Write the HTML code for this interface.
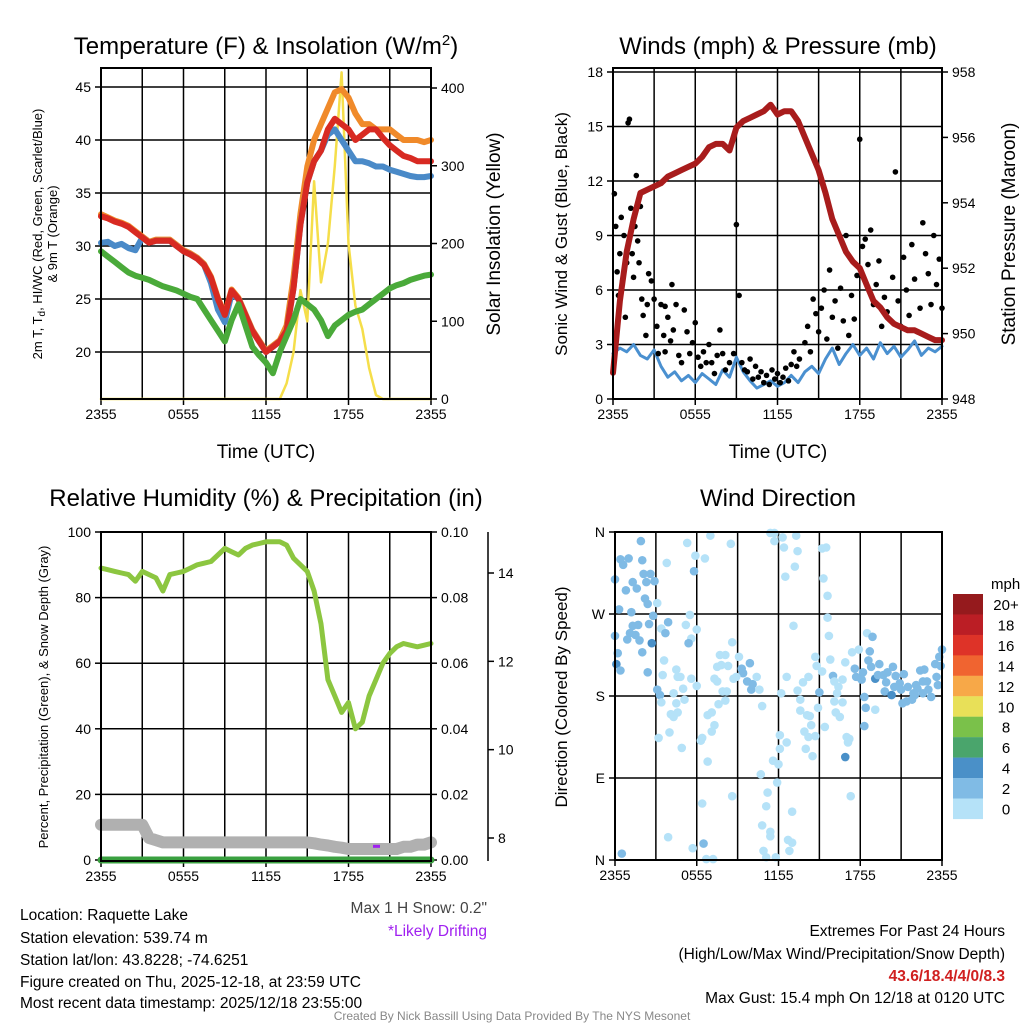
<!DOCTYPE html>
<html><head><meta charset="utf-8"><style>
body{margin:0;background:#fff}
svg text{font-family:"Liberation Sans",sans-serif}
</style></head><body>
<svg id="s" width="1024" height="1024" viewBox="0 0 1024 1024" xmlns="http://www.w3.org/2000/svg">
<g id="g"></g>
<g font-size="24" text-anchor="middle" fill="#000">
<text x="266" y="54">Temperature (F) &amp; Insolation (W/m<tspan dy="-9" font-size="15">2</tspan><tspan dy="9">)</tspan></text>
<text x="778" y="54">Winds (mph) &amp; Pressure (mb)</text>
<text x="266" y="506">Relative Humidity (%) &amp; Precipitation (in)</text>
<text x="778" y="506">Wind Direction</text>
</g>
<g font-size="19" text-anchor="middle">
<text x="266" y="458">Time (UTC)</text>
<text x="778" y="458">Time (UTC)</text>
<text transform="translate(500,234) rotate(-90)">Solar Insolation (Yellow)</text>
<text transform="translate(1015,234) rotate(-90)">Station Pressure (Maroon)</text>
</g>
<g font-size="17" text-anchor="middle">
<text transform="translate(567,234) rotate(-90)">Sonic Wind &amp; Gust (Blue, Black)</text>
<text transform="translate(567,697) rotate(-90)">Direction (Colored By Speed)</text>
</g>
<g font-size="13" text-anchor="middle">
<text transform="translate(42,234) rotate(-90)">2m T, T<tspan dy="3" font-size="10">d</tspan><tspan dy="-3">, HI/WC (Red, Green, Scarlet/Blue)</tspan></text>
<text transform="translate(57,234) rotate(-90)">&amp; 9m T (Orange)</text>
<text transform="translate(48,697) rotate(-90)">Percent, Precipitation (Green), &amp; Snow Depth (Gray)</text>
</g>
<g font-size="15.5">
<text x="20" y="920">Location: Raquette Lake</text>
<text x="20" y="943">Station elevation: 539.74 m</text>
<text x="20" y="965">Station lat/lon: 43.8228; -74.6251</text>
<text x="20" y="987">Figure created on Thu, 2025-12-18, at 23:59 UTC</text>
<text x="20" y="1008">Most recent data timestamp: 2025/12/18 23:55:00</text>
<text x="487" y="913" text-anchor="end" fill="#444">Max 1 H Snow: 0.2"</text>
<text x="487" y="936" text-anchor="end" fill="#a020f0">*Likely Drifting</text>
<text x="1005" y="936" text-anchor="end">Extremes For Past 24 Hours</text>
<text x="1005" y="959" text-anchor="end">(High/Low/Max Wind/Precipitation/Snow Depth)</text>
<text x="1005" y="981" text-anchor="end" fill="#d02020" font-weight="bold">43.6/18.4/4/0/8.3</text>
<text x="1005" y="1003" text-anchor="end">Max Gust: 15.4 mph On 12/18 at 0120 UTC</text>
</g>
<text x="512" y="1020" font-size="12" fill="#888" text-anchor="middle">Created By Nick Bassill Using Data Provided By The NYS Mesonet</text>
</svg>
<script>
// ---------- data ----------
const hours = [];for(let i=0;i<=48;i++)hours.push(i/2);
const timeTicks=["2355","0555","1155","1755","2355"];
const tempRed=[32.8,32.6,32.3,32.1,31.8,31.3,30.8,30.3,30.5,30.5,30.5,30.0,29.5,29.2,28.8,28.2,27.0,25.0,23.5,25.8,25.0,23.5,22.0,21.0,20.0,20.5,21.0,22.0,26.0,32.0,36.0,38.0,39.0,41.0,42.0,41.5,41.0,40.0,40.5,41.0,41.0,40.2,39.5,39.0,38.5,38.3,38.0,38.0,38.0];
const tempOrange=[33.0,32.7,32.4,32.2,31.9,31.4,30.9,30.4,30.6,30.6,30.6,30.1,29.6,29.3,28.9,28.3,27.1,25.1,23.6,25.9,25.1,23.6,22.1,21.1,20.1,20.6,21.1,22.5,27.0,33.0,37.5,40.0,41.5,43.0,44.5,44.8,44.0,42.5,41.5,41.5,41.0,41.0,41.0,40.5,40.0,40.0,40.0,39.8,40.0];
const tempBlue=[30.3,30.4,30.0,30.2,29.8,29.6,30.8,30.3,30.5,30.5,30.5,30.0,29.5,29.2,28.8,28.2,26.5,24.0,22.8,25.5,25.0,23.5,22.0,21.0,20.0,20.5,21.0,22.0,26.0,32.0,36.0,38.0,39.0,40.5,41.0,40.0,39.0,38.0,38.0,37.8,37.5,37.5,37.2,37.0,36.8,36.6,36.5,36.5,36.6];
const tempGreen=[29.5,29.0,28.5,28.0,27.5,27.2,27.0,26.8,26.5,26.2,26.0,25.8,25.5,25.2,25.0,24.0,23.0,22.0,21.0,23.0,24.5,22.5,20.5,19.7,19.0,18.0,20.0,21.5,23.0,25.0,24.5,24.0,23.0,21.5,22.5,23.0,23.5,23.8,24.0,24.5,25.0,25.5,26.0,26.3,26.5,26.8,27.0,27.2,27.3];
const insolation=[0,0,0,0,0,0,0,0,0,0,0,0,0,0,0,0,0,0,0,0,0,0,0,0,0,0,0,20,60,140,100,280,150,200,300,420,200,120,90,40,5,0,0,0,0,0,0,0,0];
const pressure=[948.8,951.0,952.5,953.5,954.3,954.4,954.5,954.6,954.8,954.9,955.0,955.1,955.2,955.4,955.7,955.8,955.8,955.6,956.3,956.5,956.6,956.7,956.8,957.0,956.7,956.8,956.8,956.5,956.0,955.5,955.0,954.3,953.5,953.0,952.5,952.2,952.0,951.5,951.0,950.8,950.5,950.3,950.2,950.1,950.1,950.0,949.9,949.8,949.8];
const sonicWind=[2.5,2.8,2.6,3.0,2.4,2.2,2.7,1.8,1.2,1.5,1.0,1.3,0.9,1.4,1.1,0.8,1.6,1.2,2.3,1.5,1.0,0.6,0.8,1.0,0.7,0.9,1.3,0.9,1.5,1.8,1.4,2.2,2.8,1.9,2.5,3.0,2.4,2.8,2.2,3.1,2.5,2.9,2.3,2.7,3.2,2.4,2.8,2.6,2.9];
const gustHours=[0.1,0.2,0.3,0.4,0.5,0.6,0.7,0.8,0.9,1.0,1.1,1.2,1.3,1.4,1.5,1.6,1.7,1.8,1.9,2.0,2.1,2.2,2.4,2.5,2.6,2.8,3.0,3.2,3.3,3.5,3.7,3.8,4.0,4.2,4.4,4.6,4.8,5.0,5.2,5.4,5.6,5.8,6.0,6.2,6.4,6.6,6.8,7.0,7.2,7.4,7.6,7.8,8.0,8.2,8.5,8.8,9.0,9.2,9.4,9.6,9.8,10.0,10.2,10.4,10.6,10.8,11.0,11.2,11.4,11.6,11.8,12.0,12.2,12.4,12.6,12.8,13.0,13.2,13.4,13.6,14.0,14.2,14.4,14.6,14.8,15.0,15.2,15.4,15.6,15.8,16.0,16.2,16.4,16.6,16.8,17.0,17.2,17.4,17.6,17.8,18.0,18.2,18.4,18.6,18.8,19.0,19.2,19.4,19.6,19.8,20.0,20.4,20.6,20.8,21.0,21.2,21.4,21.6,21.8,22.0,22.2,22.4,22.6,22.8,23.0,23.2,23.4,23.6,23.8,24.0,3.8,4.3];
const gustValues=[11.3,9.5,7,5.7,8,10,6.5,9,4.5,7.5,15.2,15.4,10.5,8,6.7,9.5,12.3,8.7,7.5,10.6,5.5,4.6,3.5,5.2,6.9,6.5,5.5,4,2.5,5.2,3.5,2.6,4.5,3.2,3.8,5.2,2.4,2.0,4.9,3.7,2.5,3.1,4.2,2.3,1.8,2.6,2.0,3.0,2.0,1.4,2.4,3.8,2.5,1.6,2.0,2.5,9.6,5.7,2.0,1.6,1.5,2.2,1.1,1.8,1.2,1.5,0.9,1.3,0.8,1.6,1.1,1.4,0.9,1.2,1.7,1.0,1.9,2.6,1.8,2.2,3.1,4.0,2.6,5.5,4.7,3.7,5.0,6.0,3.3,7.1,4.5,5.4,2.8,6.1,4.3,9.0,3.5,5.7,4.4,6.8,14.3,8.4,8.8,7.4,9.3,5.2,6.3,7.6,4.0,5.6,4.8,6.7,12.5,5.4,4.0,7.8,6.0,4.6,8.5,6.6,3.7,5.0,9.7,8.0,6.9,5.2,9.0,6.3,7.7,5.0,5.1,6.3];
const rh=[89,88.5,88,87.5,87,85,88,87,86,82,87,87.5,88,89,90,90.5,91,93,95,94,93,95,96,96.5,97,97,97,96,92,90,88,82,72,55,50,45,48,40,42,50,55,60,63,65,66,65.5,65,65.5,66];
const snowDepth=[8.3,8.3,8.3,8.3,8.3,8.3,8.3,8.0,7.95,7.9,7.9,7.9,7.9,7.9,7.9,7.9,7.9,7.9,7.9,7.9,7.9,7.9,7.9,7.9,7.9,7.9,7.9,7.9,7.9,7.9,7.9,7.88,7.85,7.83,7.8,7.78,7.75,7.75,7.75,7.75,7.75,7.75,7.75,7.75,7.8,7.8,7.85,7.85,7.9];
const precip=hours.map(()=>0);
const dirHours=[0.0,0.4,1.0,0.6,1.9,2.0,2.1,2.6,1.3,0.8,1.6,2.3,2.9,2.2,2.4,0.3,1.2,2.8,0.0,1.3,1.7,1.1,0.9,1.5,1.8,2.5,2.7,0.2,0.1,0.4,2.0,2.4,3.1,3.8,3.9,3.4,3.7,3.6,3.5,3.1,3.3,3.4,4.5,4.6,4.8,4.3,5.0,4.5,5.1,4.1,4.3,4.6,3.2,4.0,4.9,3.9,0.5,5.3,5.9,6.6,7.0,5.8,5.5,5.2,6.0,5.6,5.4,5.6,6.0,6.4,6.3,6.8,6.8,7.1,7.3,7.1,7.6,7.7,8.1,7.5,7.8,8.3,7.3,7.5,7.9,8.2,8.1,8.6,8.7,8.5,8.6,6.4,6.5,5.7,6.7,7.2,9.1,9.4,9.9,9.7,10.0,10.1,9.3,10.4,10.6,10.8,8.9,11.4,11.7,11.7,12.3,12.4,13.3,13.4,13.2,12.5,13.1,12.6,12.2,12.1,12.1,12.6,11.6,12.0,10.7,11.9,11.2,11.1,13.0,10.8,11.4,11.4,12.7,13.0,12.8,10.9,11.1,11.8,13.4,13.6,13.8,14.2,13.6,14.1,14.3,14.4,13.9,14.2,14.7,14.0,14.5,14.7,14.8,15.2,15.0,14.9,15.4,15.2,15.5,15.3,15.6,15.6,15.7,15.8,16.0,16.1,16.4,16.7,16.9,16.3,16.1,16.7,16.2,16.5,17.0,17.2,17.1,16.9,17.3,17.4,17.9,17.6,17.7,18.2,18.1,18.3,18.4,18.3,19.1,18.5,18.9,18.7,18.6,18.8,19.1,19.4,19.3,19.7,20.0,19.9,19.8,20.4,20.6,20.5,20.3,20.9,21.2,21.0,21.5,21.1,21.4,21.8,22.0,22.1,22.4,22.7,22.6,22.9,23.0,23.2,23.5,23.6,23.7,23.8,24.0,23.9,22.6,22.2,21.9];
const dirDegrees=[308,330,331,324,350,329,314,314,305,296,298,305,306,287,281,275,272,268,246,257,258,249,242,247,241,259,238,227,215,208,228,206,282,326,261,254,249,219,203,187,181,173,209,201,201,183,188,172,176,160,157,162,134,140,123,25,7,348,334,331,356,317,269,258,253,243,238,199,191,134,131,108,159,162,148,141,171,225,225,212,214,213,199,196,185,185,175,239,199,347,70,62,18,13,1,1,223,205,216,196,187,193,210,201,187,169,201,359,359,350,354,343,356,339,322,311,257,201,183,137,122,129,109,105,94,85,74,59,53,38,31,26,22,19,10,10,3,3,186,176,195,201,164,159,158,148,141,135,136,122,114,223,213,207,184,167,146,342,343,309,290,266,246,220,202,196,190,198,217,183,174,173,162,157,135,133,129,113,70,228,231,210,201,206,198,179,167,147,165,249,245,229,219,212,199,215,203,203,206,195,185,212,202,190,181,194,204,187,190,172,174,176,181,192,208,209,196,196,187,179,215,201,192,223,231,213,183,188,183];
const dirSpeeds=[2.5,2.5,2.5,2.5,2.5,2.5,2.5,2.5,2.5,2.5,2.5,2.5,2.5,2.5,2.5,2.5,2.5,2.5,2.5,2.5,2.5,2.5,2.5,2.5,2.5,2.5,4.5,2.5,4.5,2.5,2.5,2.5,0.5,0.5,2.5,0.5,2.5,0.5,0.5,2.5,2.5,0.5,0.5,0.5,0.5,0.5,0.5,0.5,0.5,0.5,0.5,0.5,0.5,0.5,0.5,0.5,2.5,0.5,0.5,0.5,0.5,2.5,0.5,0.5,0.5,0.5,2.5,0.5,0.5,0.5,0.5,0.5,0.5,0.5,0.5,0.5,0.5,0.5,0.5,0.5,0.5,0.5,0.5,0.5,0.5,0.5,0.5,0.5,0.5,0.5,0.5,0.5,2.5,0.5,0.5,0.5,0.5,2.5,2.5,2.5,2.5,2.5,2.5,0.5,0.5,0.5,0.5,0.5,0.5,0.5,0.5,0.5,0.5,0.5,0.5,0.5,0.5,0.5,0.5,0.5,0.5,0.5,0.5,0.5,0.5,0.5,0.5,0.5,0.5,0.5,0.5,0.5,0.5,0.5,0.5,0.5,0.5,0.5,0.5,0.5,0.5,0.5,0.5,0.5,0.5,0.5,0.5,0.5,0.5,0.5,0.5,0.5,0.5,0.5,2.5,0.5,0.5,0.5,0.5,0.5,0.5,0.5,0.5,0.5,2.5,0.5,0.5,0.5,0.5,0.5,0.5,0.5,0.5,0.5,0.5,0.5,0.5,4.5,0.5,0.5,0.5,2.5,2.5,2.5,2.5,2.5,2.5,2.5,0.5,0.5,2.5,2.5,2.5,2.5,4.5,2.5,2.5,2.5,2.5,2.5,2.5,2.5,2.5,2.5,4.5,2.5,2.5,2.5,2.5,2.5,2.5,2.5,2.5,2.5,2.5,2.5,2.5,2.5,2.5,2.5,2.5,2.5,2.5,2.5,2.5,2.5,2.5,2.5,2.5,2.5,2.5,2.5,2.5];
const speedLabels=["20+","18","16","14","12","10","8","6","4","2","0"];
const speedColors=["#951a1d","#bb1e25","#de3328","#f06430","#f7a848","#e8e058","#7ac14a","#4aa56c","#4a90c8","#80bbe5","#b5e2f8"];
const tempTicks=[20,25,30,35,40,45], insTicks=[0,100,200,300,400];
const windTicks=[0,3,6,9,12,15,18], presTicks=[948,950,952,954,956,958];
const rhTicks=[0,20,40,60,80,100], prTicks=["0.00","0.02","0.04","0.06","0.08","0.10"], snowTicks=[8,10,12,14];
const dirLabels=["N","E","S","W","N"], dirTickVals=[0,90,180,270,360];
// ---------- drawing ----------
const NS="http://www.w3.org/2000/svg", G=document.getElementById('g');
function el(t,a,p){const e=document.createElementNS(NS,t);for(const k in a)e.setAttribute(k,a[k]);(p||G).appendChild(e);return e;}
function lin(d0,d1,r0,r1){return v=>r0+(v-d0)/(d1-d0)*(r1-r0);}
function txt(x,y,s,anchor,size){const t=el('text',{x:x,y:y,'text-anchor':anchor||'middle','font-size':size||14});t.textContent=s;return t;}
function panel(name,L,T,R,B){
  const x=lin(0,24,L,R);
  for(let h=3;h<24;h+=3){const l=el('line',{x1:x(h),x2:x(h),y1:T,y2:B,stroke:'#000','stroke-width':1.5});

}
  timeTicks.forEach((s,i)=>{const xx=x(i*6);el('line',{x1:xx,x2:xx,y1:B,y2:B+6,stroke:'#000','stroke-width':1.5});
const t=txt(xx,B+20,s);

});
  return x;
}
function box(name,L,T,R,B){const r=el('rect',{x:L,y:T,width:R-L,height:B-T,fill:'none',stroke:'#000','stroke-width':2});

}
function yAxis(name,ticks,labels,y,X,side,grid,L,R){ticks.forEach((v,i)=>{const yy=y(v);
if(grid){const g=el('line',{x1:L,x2:R,y1:yy,y2:yy,stroke:'#000','stroke-width':1.5});

}
el('line',{x1:X,x2:X+(side<0?-6:6),y1:yy,y2:yy,stroke:'#000','stroke-width':1.5});
const t=txt(X+(side<0?-10:10),yy+5,String(labels[i]),side<0?'end':'start');

});}
function line(name,xs,ys,x,y,color,w){const d=xs.map((h,i)=>(i?'L':'M')+x(h).toFixed(1)+','+y(ys[i]).toFixed(1)).join('');
const p=el('path',{d:d,fill:'none',stroke:color,'stroke-width':w,'stroke-linejoin':'round','stroke-linecap':'round'});

}
// Panel 1
{const L=101,T=68,R=431,B=399;const x=panel('temp',L,T,R,B);
const y=lin(20,45,352,87), yi=lin(0,400,399,88);
yAxis('temp-y',tempTicks,tempTicks,y,L,-1,true,L,R);
yAxis('insolation-y',insTicks,insTicks,yi,R,1,false);
line('insolation-line',hours,insolation,x,yi,'#f5de4a',2.5);
line('orange-9m-temp-line',hours,tempOrange,x,y,'#f08a2a',6);
line('blue-windchill-line',hours,tempBlue,x,y,'#4a8ac8',6);
line('red-2m-temp-line',hours,tempRed,x,y,'#d82a22',6);
line('green-dewpoint-line',hours,tempGreen,x,y,'#4aaa3a',6);
box('temp',L,T,R,B);}
// Panel 2
{const L=613,T=68,R=942,B=399;const x=panel('winds',L,T,R,B);
const y=lin(0,18,399,72), yp=lin(948,958,399,72);
yAxis('wind-y',windTicks,windTicks,y,L,-1,true,L,R);
yAxis('pressure-y',presTicks,presTicks,yp,R,1,false);
line('sonic-wind-line',hours,sonicWind,x,y,'#4a90d0',3);
gustHours.forEach((h,i)=>{const c=el('circle',{cx:x(h),cy:y(gustValues[i]),r:2.8,fill:'#000'});

});
line('pressure-line',hours,pressure,x,yp,'#a81c1c',6);
box('winds',L,T,R,B);}
// Panel 3
{const L=101,T=532,R=431,B=861;const x=panel('rh',L,T,R,B);
const y=lin(0,100,860,532), ys=lin(8,14,838,573);
yAxis('rh-y',rhTicks,rhTicks,y,L,-1,true,L,R);
yAxis('precip-y',rhTicks,prTicks,y,R,1,false);
const ax=el('line',{x1:488,x2:488,y1:532,y2:861,stroke:'#000','stroke-width':1.5});


yAxis('snow-y',snowTicks,snowTicks,ys,488,1,false);
line('snow-depth-line',hours,snowDepth,x,ys,'#b0b0b0',12);
line('precip-line',hours,precip.map(v=>v*1000),x,y,'#3aa040',7);
line('rh-line',hours,rh,x,y,'#8cc640',5);
const m=el('rect',{x:x(20)-3,y:ys(7.8)-2,width:7,height:3,fill:'#a020f0'});


box('rh',L,T,R,B);}
// Panel 4
{const L=615,T=532,R=942,B=860;const x=panel('dir',L,T,R,B);
const y=lin(0,360,860,532);
yAxis('dir-y',dirTickVals,dirLabels,y,L,-1,true,L,R);
function col(s){let k=Math.min(10,Math.floor(s/2));return speedColors[10-k];}
dirHours.forEach((h,i)=>{const c=el('circle',{cx:x(h),cy:y(dirDegrees[i]),r:4.3,fill:col(dirSpeeds[i])});

});
box('dir',L,T,R,B);
const t=txt(991,589,'mph','start',15);
speedLabels.forEach((s,i)=>{const yy=594+i*20.45;
const r=el('rect',{x:953,y:yy,width:30,height:20.6,fill:speedColors[i]});


const tt=txt(1006,yy+16,s,'middle',15);

});}
</script>
</body></html>
